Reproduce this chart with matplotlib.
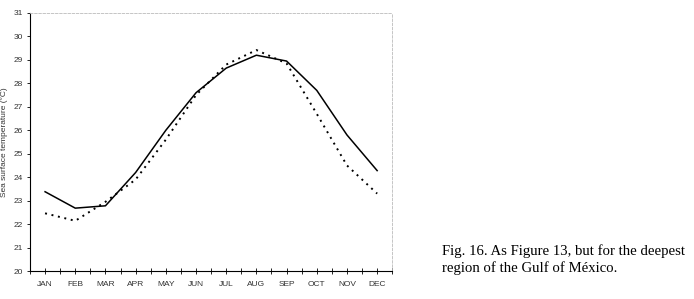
import numpy as np
import matplotlib
matplotlib.use('Agg')
import matplotlib.pyplot as plt

months = ['JAN', 'FEB', 'MAR', 'APR', 'MAY', 'JUN',
	'JUL', 'AUG', 'SEP', 'OCT', 'NOV', 'DEC']
sst_solid = [23.38, 22.68, 22.78, 24.2, 26.0, 27.6, 28.65, 29.2, 28.95, 27.7, 25.8, 24.28]
sst_dotted = [22.46, 22.14, 22.95, 23.9, 25.6, 27.5, 28.8, 29.42, 28.85, 26.7, 24.5, 23.3]
yticks = list(range(20, 32))

plt.rcParams['font.family'] = ['Liberation Sans', 'DejaVu Sans']

fig = plt.figure(figsize=(6.94, 2.99), dpi=100)
ax = fig.add_axes([0.0432, 0.0936, 0.522, 0.863])

x = np.arange(len(months))
ax.plot(x, sst_solid, color='black', linewidth=1.1)
ax.plot(x, sst_dotted, color='black', linewidth=1.4, linestyle=(0, (1, 2.4)))

ax.set_xlim(-0.5, 11.5)
ax.set_ylim(20, 31)
ax.set_yticks(yticks)
ax.set_yticklabels([str(v) for v in yticks], fontsize=6, color='#333333')
ax.set_xticks(x)
ax.set_xticklabels(months, fontsize=6, color='#333333')
ax.set_xticks(np.arange(-0.5, 12, 1.0), minor=True)
ax.tick_params(axis='x', which='both', direction='inout', length=5, width=0.6, pad=5)
ax.tick_params(axis='y', which='major', direction='out', length=2, width=0.6, pad=3)

for side in ('top', 'right'):
	ax.spines[side].set_color('#bbbbbb')
	ax.spines[side].set_linestyle((0, (3, 2)))
	ax.spines[side].set_linewidth(0.6)
for side in ('left', 'bottom'):
	ax.spines[side].set_color('black')
	ax.spines[side].set_linewidth(0.8)

ax.set_ylabel('Sea surface temperature (°C)', fontsize=6, color='#333333', labelpad=4)

caption = 'Fig. 16. As Figure 13, but for the deepest\nregion of the Gulf of México.'
fig.text(442 / 694, 1 - 244 / 299, caption, fontsize=10.6, va='top', ha='left',
	family=['Liberation Serif', 'DejaVu Serif'], linespacing=1.3)

fig.savefig('out.png', dpi=100)
